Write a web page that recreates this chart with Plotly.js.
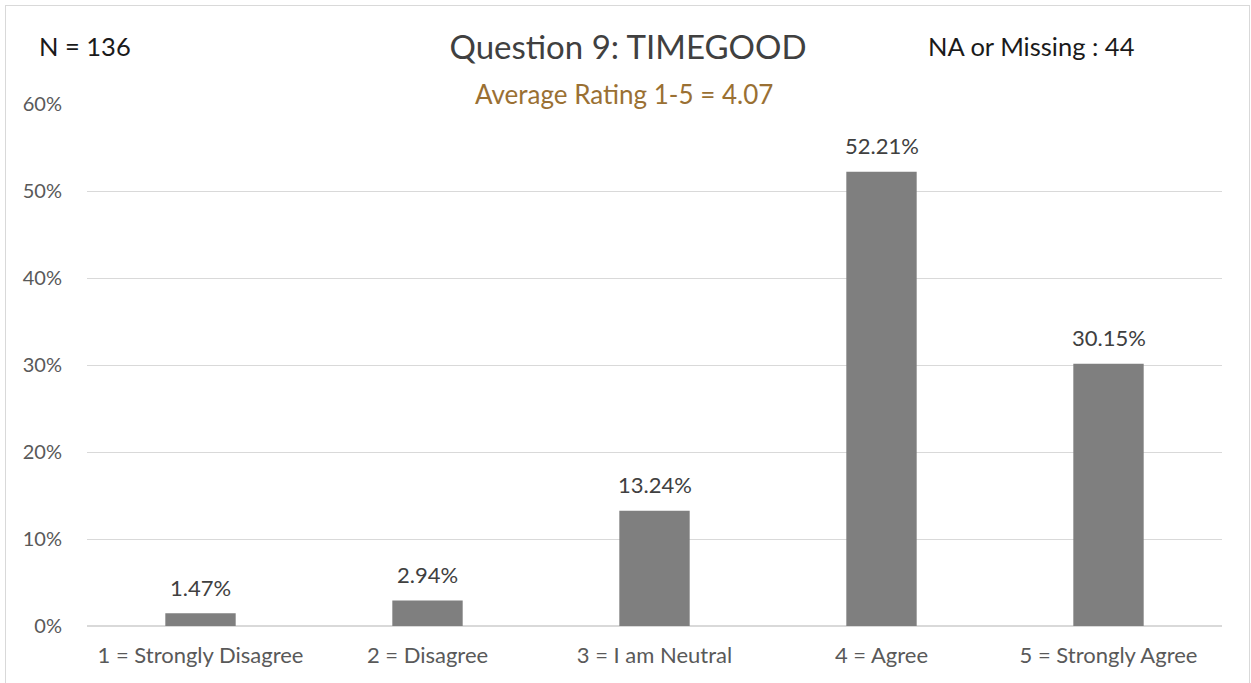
<!DOCTYPE html>
<html>
<head>
<meta charset="utf-8">
<script src="https://cdn.plot.ly/plotly-3.0.1.min.js"></script>
<style>
  html, body { margin: 0; padding: 0; background: #ffffff; overflow: hidden; }
  #wrap { position: relative; width: 1251px; height: 683px; }
  #frame { position: absolute; left: 5px; top: 5px; width: 1243px; height: 720px; border: 1px solid #d9d9d9; pointer-events: none; z-index: 2; }
  #chart { position: absolute; left: 0; top: 0; width: 1251px; height: 683px; }
</style>
</head>
<body>
<div id="wrap">
  <div id="chart"></div>
  <div id="frame"></div>
</div>
<script>
const categories = ["1 = Strongly Disagree", "2 = Disagree", "3 = I am Neutral", "4 = Agree", "5 = Strongly Agree"];
const percentages = [1.47, 2.94, 13.24, 52.21, 30.15];
const yTickValues = [0, 10, 20, 30, 40, 50, 60];
const yTickLabels = ["0%", "10%", "20%", "30%", "40%", "50%", "60%"];
const titleText = "Question 9: TIMEGOOD";
const sampleText = "N = 136";
const missingText = "NA or Missing : 44";
const averageText = "Average Rating 1-5 = 4.07";

const FONT = "Lato, 'Open Sans', sans-serif";

const trace = {
  type: "bar",
  x: categories,
  y: percentages,
  marker: { color: "#7f7f7f" },
  hoverinfo: "none"
};

const labelAnnotations = categories.map((c, i) => ({
  x: c, y: percentages[i], xref: "x", yref: "y",
  text: percentages[i].toFixed(2) + "%",
  showarrow: false, yanchor: "middle", yshift: 26,
  font: { family: FONT, size: 22, color: "#404040" }
}));

const layout = {
  width: 1251, height: 683,
  margin: { l: 87, r: 29, t: 104, b: 57 },
  paper_bgcolor: "#ffffff", plot_bgcolor: "#ffffff",
  bargap: 0.69,
  showlegend: false,
  font: { family: FONT, color: "#595959" },
  title: {
    text: titleText,
    x: 0.502, xref: "container", xanchor: "center",
    y: 1 - 47 / 683, yref: "container", yanchor: "middle",
    font: { family: FONT, size: 33, color: "#404040" }
  },
  xaxis: {
    type: "category",
    showgrid: false, zeroline: false, showline: false,
    ticks: "outside", ticklen: 10, tickcolor: "rgba(0,0,0,0)",
    tickfont: { family: FONT, size: 22, color: "#595959" },
    fixedrange: true
  },
  yaxis: {
    range: [0, 60],
    tickvals: yTickValues, ticktext: yTickLabels,
    showgrid: true, gridcolor: "#d9d9d9", gridwidth: 1,
    zeroline: true, zerolinecolor: "#d9d9d9", zerolinewidth: 2,
    showline: false,
    ticks: "outside", ticklen: 20, tickcolor: "rgba(0,0,0,0)",
    tickfont: { family: FONT, size: 20, color: "#595959" },
    fixedrange: true
  },
  annotations: labelAnnotations.concat([
    {
      text: sampleText, xref: "paper", yref: "paper",
      x: (85 - 87) / 1135, y: (626 - 46) / 522,
      xanchor: "center", yanchor: "middle", showarrow: false,
      font: { family: FONT, size: 25.5, color: "#1a1a1a" }
    },
    {
      text: missingText, xref: "paper", yref: "paper",
      x: (1031.5 - 87) / 1135, y: (626 - 46) / 522,
      xanchor: "center", yanchor: "middle", showarrow: false,
      font: { family: FONT, size: 25.5, color: "#1a1a1a" }
    },
    {
      text: averageText, xref: "paper", yref: "paper",
      x: (624 - 87) / 1135, y: (626 - 94) / 522,
      xanchor: "center", yanchor: "middle", showarrow: false,
      font: { family: FONT, size: 26, color: "#9a7033" }
    }
  ])
};

Plotly.newPlot("chart", [trace], layout, { displayModeBar: false, staticPlot: true });
</script>
</body>
</html>
